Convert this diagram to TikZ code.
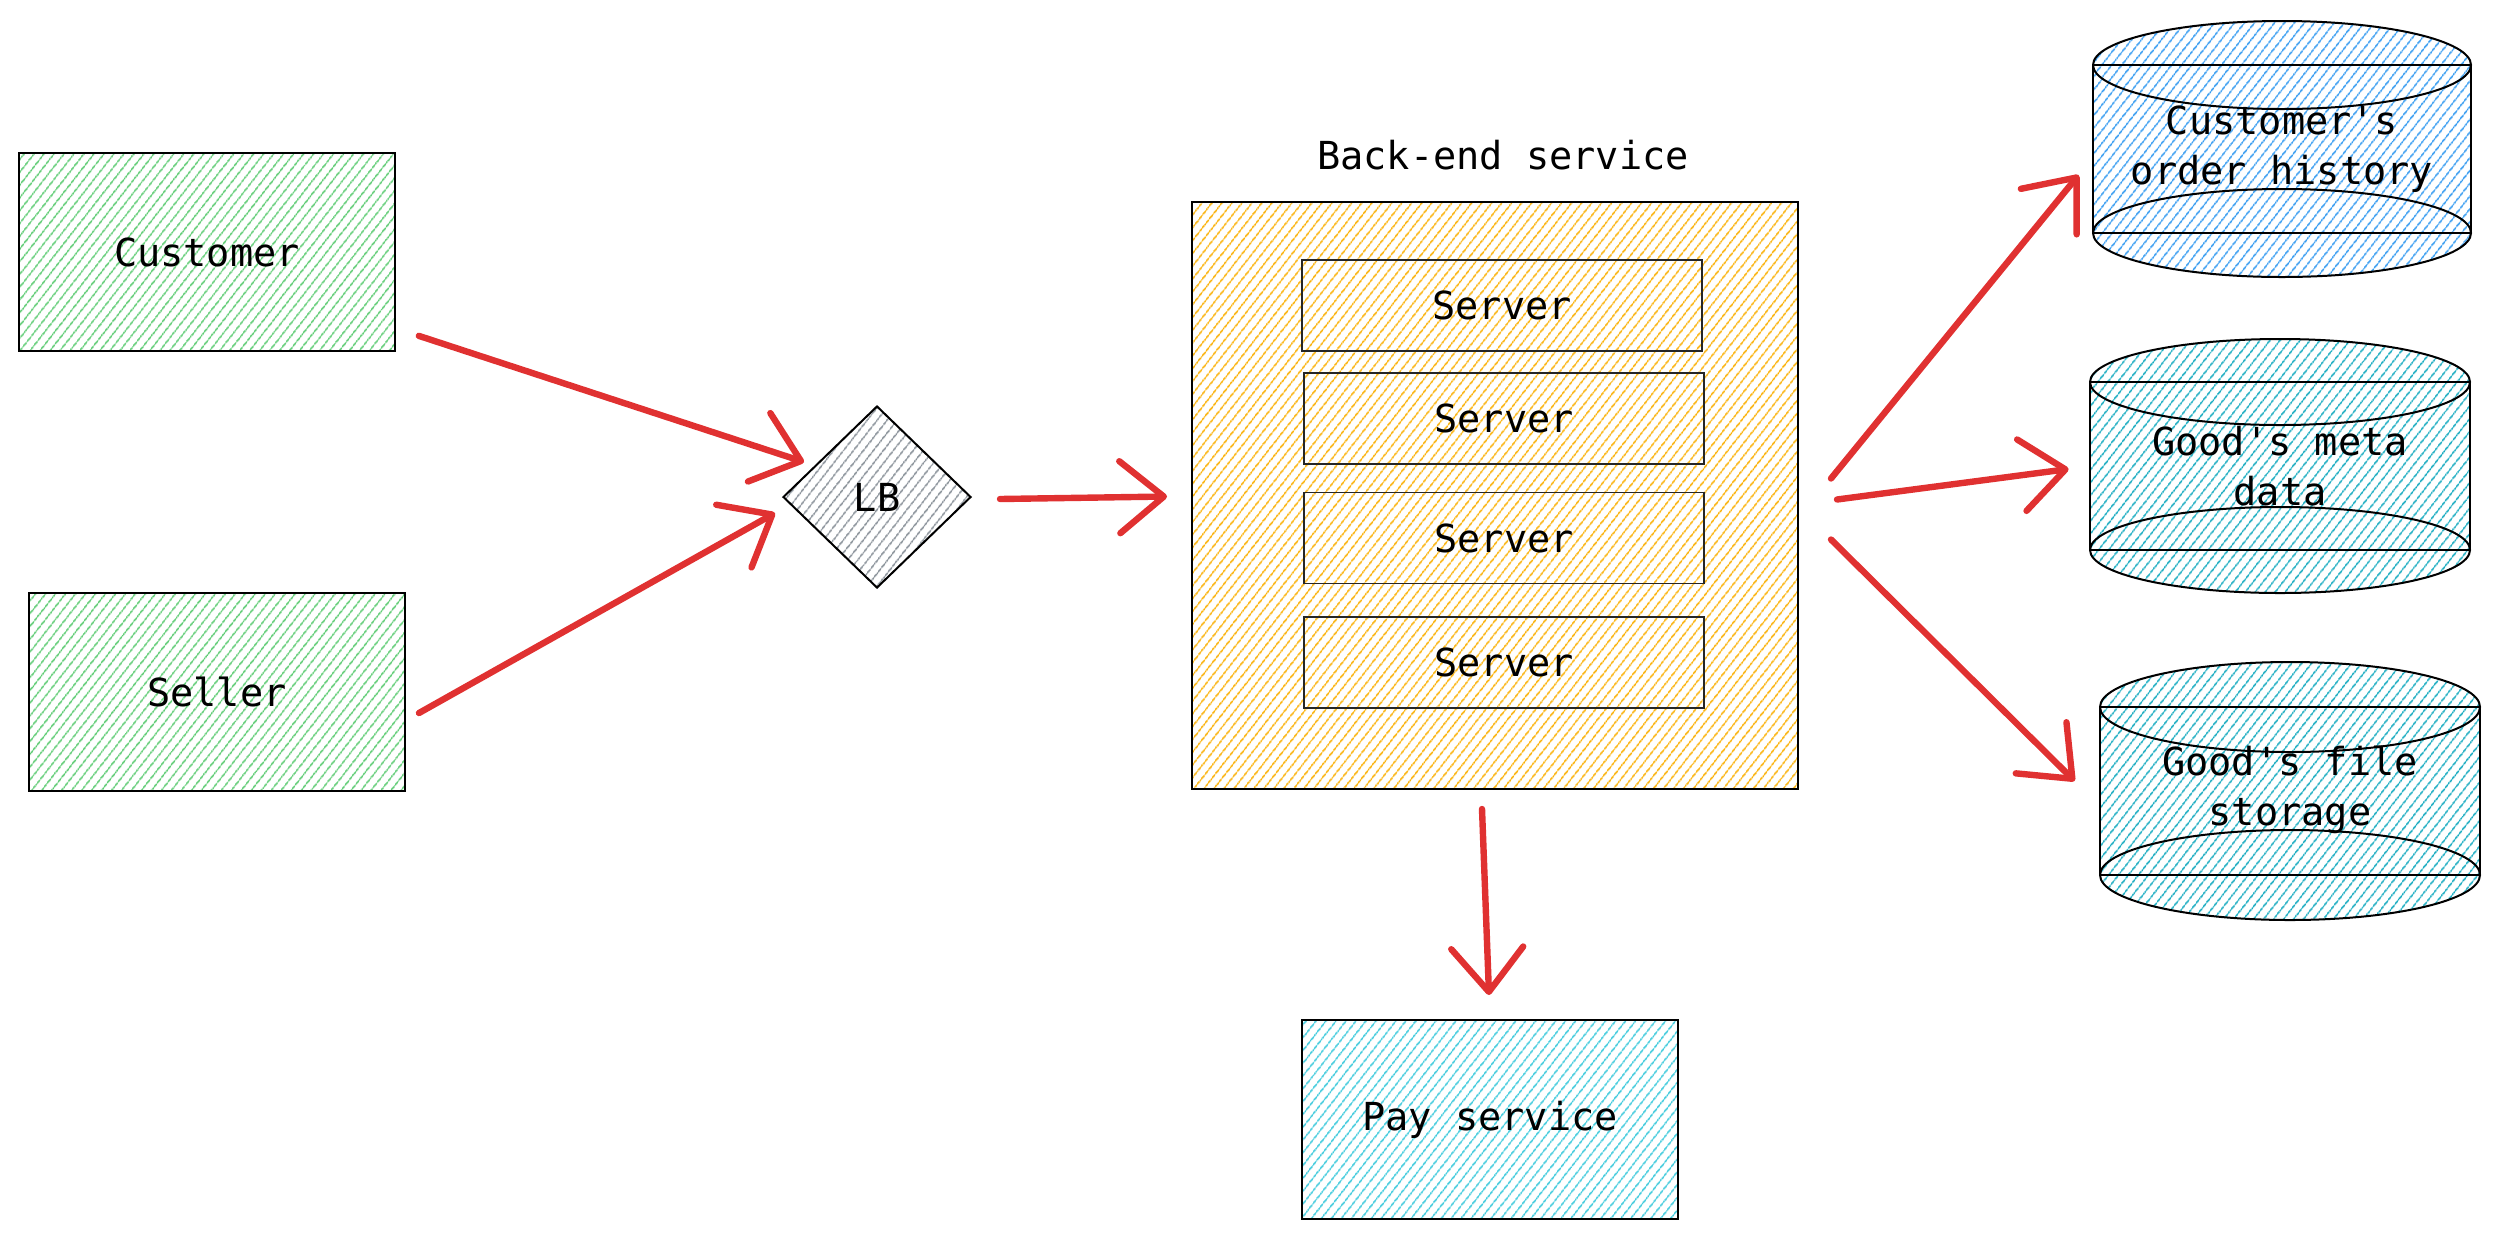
\documentclass[tikz,border=0pt]{standalone}
\usepackage{fontspec}
\setmonofont{DejaVu Sans Mono}
\usetikzlibrary{shapes.geometric,patterns.meta,arrows.meta,calc}
\definecolor{hgreen}{HTML}{5CCB72}
\definecolor{horange}{HTML}{FAB005}
\definecolor{hgray}{HTML}{868E96}
\definecolor{hcyan}{HTML}{3BC9DB}
\definecolor{hteal}{HTML}{15AABF}
\definecolor{hblue}{HTML}{339AF0}
\definecolor{ared}{HTML}{E03131}
\tikzset{
  hatch/.style={pattern={Lines[angle=52,distance=4pt,line width=0.85pt]},pattern color=#1},
  box/.style={draw=black,line width=1pt,rectangle,inner sep=0pt,minimum width=188pt,minimum height=99pt,font=\ttfamily\fontsize{19.3}{25}\selectfont},
  srv/.style={draw=black!85,line width=0.8pt,rectangle,inner sep=0pt,minimum width=200pt,minimum height=45.5pt,font=\ttfamily\fontsize{19.3}{25}\selectfont},
  lbl/.style={inner sep=0pt,align=center,font=\ttfamily\fontsize{19.3}{25}\selectfont},
  cyl/.style={draw=black,line width=1pt},
  arr/.style={draw=ared,line width=3.2pt,line cap=round,line join=round,-{Straight Barb[length=22pt,width=36pt,line width=3.2pt,round]}},
}
\newcommand{\mycyl}[6]{% cx, rx, top cy, bottom cy, ry, color
  \fill[hatch=#6] (#1-#2,#3) arc[start angle=180,end angle=0,x radius=#2,y radius=#5] -- (#1+#2,#4) arc[start angle=0,end angle=-180,x radius=#2,y radius=#5] -- cycle;
  \fill[hatch=#6] (#1,#3) ellipse[x radius=#2,y radius=#5];
  \fill[hatch=#6] (#1,#4) ellipse[x radius=#2,y radius=#5];
  \draw[cyl] (#1,#3) ellipse[x radius=#2,y radius=#5];
  \draw[cyl] (#1,#4) ellipse[x radius=#2,y radius=#5];
  \draw[cyl] (#1-#2,#3) -- (#1-#2,#4) (#1+#2,#3) -- (#1+#2,#4);
  \draw[cyl] (#1-#2,#3) -- (#1+#2,#3) (#1-#2,#4) -- (#1+#2,#4);
}
\begin{document}
\begin{tikzpicture}[x=0.5pt,y=-0.5pt]
\useasboundingbox (0,0) rectangle (2499,1238);
% left boxes
\node[box,hatch=hgreen] (cust) at (207,252) {Customer};
\node[box,hatch=hgreen] (sell) at (217,692) {Seller};
% load balancer
\node[draw=black,line width=1pt,diamond,inner sep=0pt,minimum width=94pt,minimum height=91pt,hatch=hgray,font=\ttfamily\fontsize{19.3}{25}\selectfont] (lb) at (877,497) {LB};
% back-end
\node[box,hatch=horange,minimum width=303pt,minimum height=293.5pt] (be) at (1495,495.5) {};
\node[lbl] (title) at (1503,155) {Back-end service};
\node[srv] (s1) at (1502,305.5) {Server};
\node[srv] (s2) at (1504,418.5) {Server};
\node[srv] (s3) at (1504,538) {Server};
\node[srv] (s4) at (1504,662.5) {Server};
% pay
\node[box,hatch=hcyan,minimum height=99.5pt] (pay) at (1490,1119.5) {Pay service};
% cylinders
\mycyl{2282}{189}{65}{233}{44}{hblue}
\mycyl{2280}{190}{382}{550}{43}{hteal}
\mycyl{2290}{190}{707}{875}{45}{hteal}
\node[lbl,minimum width=190pt,minimum height=128pt] (c1) at (2282,149) {Customer's\\order history};
\node[lbl,minimum width=190pt,minimum height=127pt] (c2) at (2280,466) {Good's meta\\data};
\node[lbl,minimum width=190pt,minimum height=130pt] (c3) at (2290,790) {Good's file\\storage};
% arrows
\draw[arr] ($(cust.south east)+(23,-16)$) -- ($(lb.west)+(22,-35)$);
\draw[arr] ($(sell.east)+(13,21)$) -- ($(lb.west)+(-7,16)$);
\draw[arr] ($(lb.east)+(28,2)$) -- ($(be.west)+(-24,1)$);
\draw[arr] ($(be.east)+(32,-17)$) -- ($(c1.west)+(-13,26)$);
\draw[arr] ($(be.east)+(38,4)$) -- ($(c2.west)+(-21,3)$);
\draw[arr] ($(be.east)+(32,44)$) -- ($(c3.west)+(-25,-9)$);
\draw[arr] ($(be.south)+(-13,19)$) -- ($(pay.north)+(-1,-24)$);
\end{tikzpicture}
\end{document}
